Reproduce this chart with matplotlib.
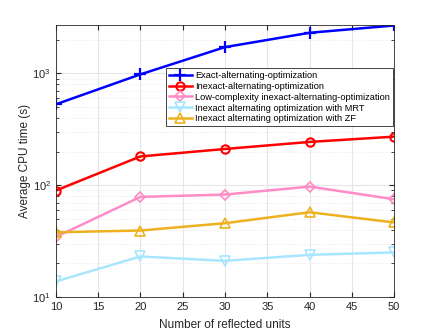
import matplotlib.pyplot as plt
import numpy as np

plt.rcParams['font.family'] = ['Liberation Sans', 'DejaVu Sans']

units = [10, 20, 30, 40, 50]
exact_ao = [529, 980, 1717, 2306, 2680]
inexact_ao = [89.7, 181, 211, 244, 272]
low_cplx = [34.5, 78.7, 82.6, 97.3, 75]
mrt = [13.8, 23.1, 21.1, 23.9, 25.1]
zf = [38, 39.4, 45.8, 57.4, 46.5]

fig = plt.figure(figsize=(4.36, 3.35), dpi=100)
ax = fig.add_axes([0.128, 0.113, 0.776, 0.812])

ax.plot(units, exact_ao, color='#0000ff', marker='+', ms=8, mew=1.6, lw=1.8,
        label='Exact-alternating-optimization')
ax.plot(units, inexact_ao, color='#ff0000', marker='o', ms=6, mfc='none', mew=1.5, lw=1.8,
        label='Inexact-alternating-optimization')
ax.plot(units, low_cplx, color='#ff8cc6', marker='D', ms=5.5, mfc='none', mew=1.2, lw=1.8,
        label='Low-complexity inexact-alternating-optimization')
ax.plot(units, mrt, color='#a8e6ff', marker='v', ms=7, mfc='none', mew=1.2, lw=1.8,
        label='Inexact alternating optimization with MRT')
ax.plot(units, zf, color='#edb120', marker='^', ms=7, mfc='none', mew=1.2, lw=1.8,
        label='Inexact alternating optimization with ZF')

ax.set_yscale('log')
ax.set_xlim(10, 50)
ax.set_ylim(10, 2700)
ax.set_xticks(np.arange(10, 51, 5))
ax.grid(True, which='major', color='#e6e6e6', lw=0.8)
ax.grid(True, which='minor', axis='y', color='#e6e6e6', lw=0.6, ls=':')
ax.tick_params(direction='in', which='both', top=True, right=True, labelsize=8, colors='#262626')
for s in ax.spines.values():
    s.set_color('#262626')
    s.set_linewidth(0.6)
ax.set_xlabel('Number of reflected units', fontsize=8.5, color='#262626', labelpad=5)
ax.set_ylabel('Average CPU time (s)', fontsize=8.5, color='#262626')
ax.yaxis.set_label_coords(-0.074, 0.5)

leg = ax.legend(loc='upper right', bbox_to_anchor=(0.998, 0.845), fontsize=6.7, handlelength=2.5,
                fancybox=False, framealpha=1, edgecolor='#262626', borderpad=0.3,
                labelspacing=0.2, handletextpad=0.3, borderaxespad=0.1)
leg.get_frame().set_linewidth(0.6)

plt.savefig('out.png', dpi=100)
